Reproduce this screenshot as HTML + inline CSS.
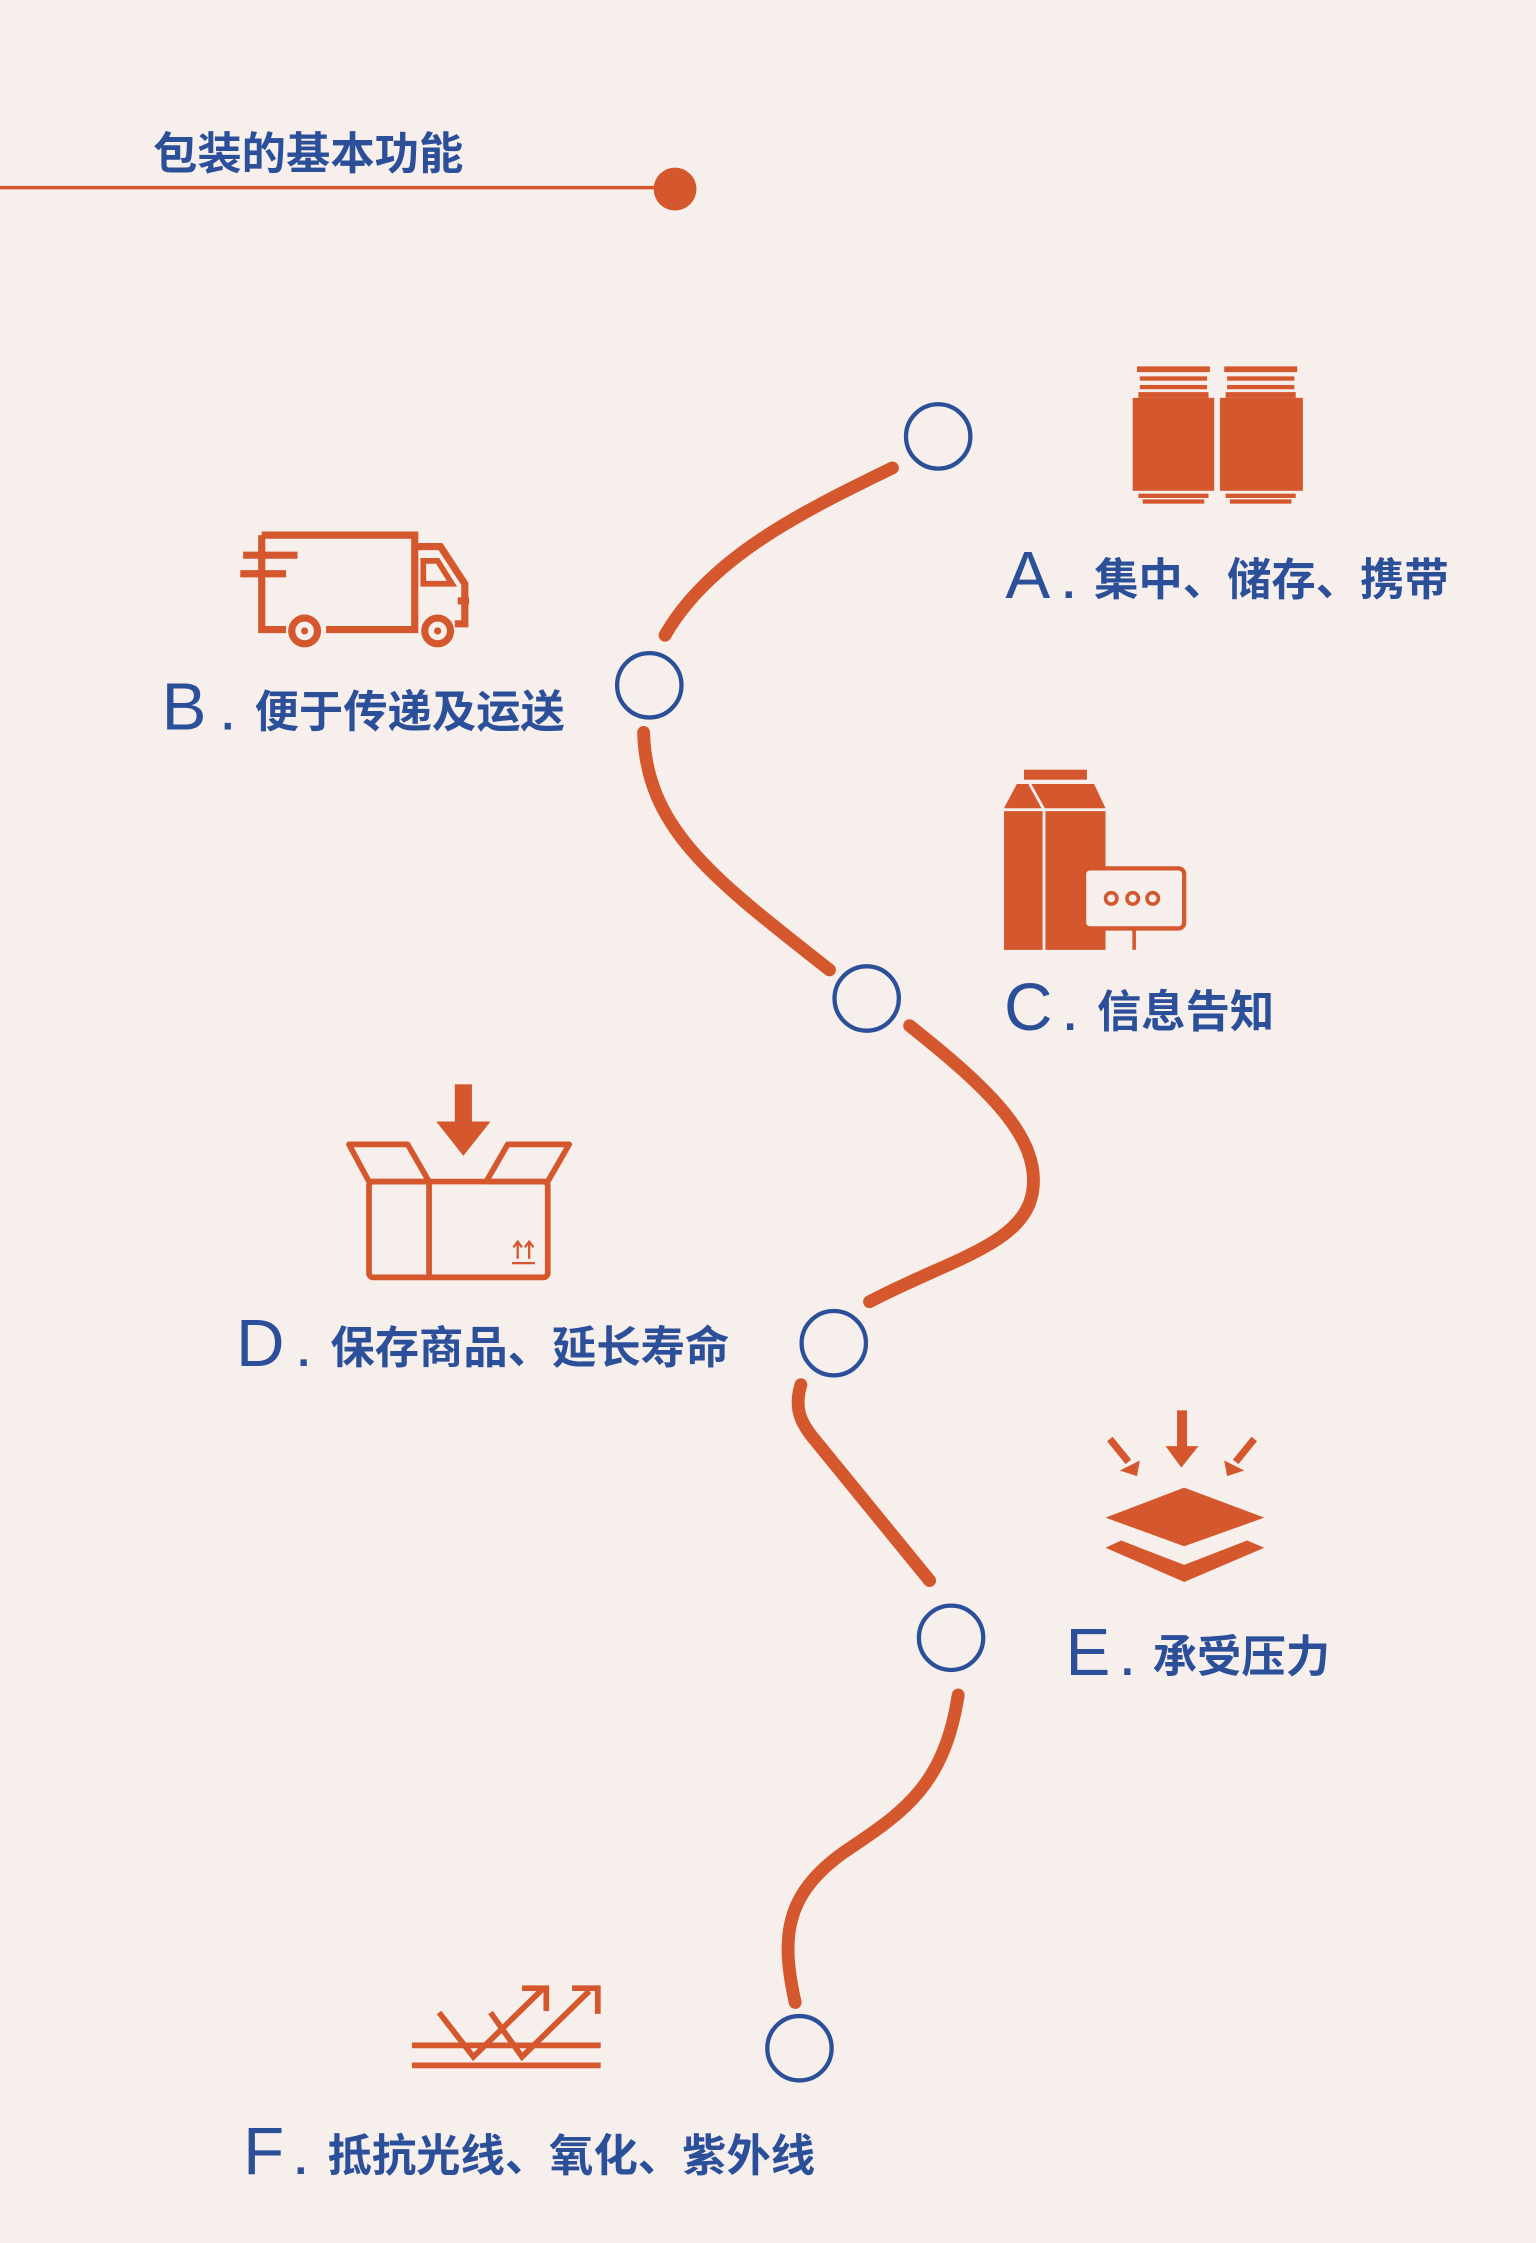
<!DOCTYPE html>
<html><head><meta charset="utf-8"><style>
html,body{margin:0;padding:0;background:#f6efeb;}
svg{display:block}
text{font-family:"Liberation Sans","Noto Sans CJK SC",sans-serif;}
</style></head><body>
<svg width="1536" height="2243" viewBox="0 0 1074 1568" xmlns="http://www.w3.org/2000/svg">
<rect width="1074" height="1568" fill="#f6efeb"/>
<text x="107" y="118" font-size="31" font-weight="bold" fill="#2c4f9a">包装的基本功能</text>
<line x1="0" y1="131" x2="470" y2="131" stroke="#d4572d" stroke-width="2.5"/>
<circle cx="472" cy="132" r="15" fill="#d4572d"/>

<g fill="none" stroke="#d4572d" stroke-width="9" stroke-linecap="round">
<path d="M624,327 C560,358 496,390 465,444"/>
<path d="M450,512 C452,580 500,615 580,678"/>
<path d="M636,717 C690,760 728,795 722,833 C716,870 665,880 608,910"/>
<path d="M560,968 C555,985 560,995 570,1007 L650,1105"/>
<path d="M670,1185 C660,1250 630,1268 590,1295 C548,1325 546,1355 556,1400"/>
</g>
<g fill="none" stroke="#2c4f9a" stroke-width="3">
<circle cx="656" cy="305" r="22.5"/>
<circle cx="454" cy="479" r="22.5"/>
<circle cx="606" cy="698" r="22.5"/>
<circle cx="583" cy="939" r="22.5"/>
<circle cx="665" cy="1145" r="22.5"/>
<circle cx="559" cy="1432" r="22.5"/>
</g>

<g fill="#2c4f9a">
<g font-size="47"><text x="703" y="418">A</text><text x="113" y="510">B</text><text x="702" y="720">C</text><text x="165" y="955">D</text><text x="745" y="1171">E</text><text x="170" y="1520">F</text></g>
<g font-size="31" font-weight="bold">
<text x="743" y="418">.</text><text x="765" y="416">集中、储存、携带</text>
<text x="155" y="510">.</text><text x="178" y="508">便于传递及运送</text>
<text x="744" y="720">.</text><text x="767" y="718">信息告知</text>
<text x="208" y="955">.</text><text x="231" y="953">保存商品、延长寿命</text>
<text x="784" y="1171">.</text><text x="806" y="1169">承受压力</text>
<text x="206" y="1520">.</text><text x="229" y="1518">抵抗光线、氧化、紫外线</text>
</g>
</g>

<g fill="#d4572d">
<rect x="792" y="278" width="57" height="65"/>
<rect x="853" y="278" width="58" height="65"/>
<rect x="795" y="256" width="51" height="4"/><rect x="797" y="263" width="47" height="3"/><rect x="797" y="269" width="47" height="3"/><rect x="796" y="274" width="49" height="4"/>
<rect x="856" y="256" width="51" height="4"/><rect x="858" y="263" width="47" height="3"/><rect x="858" y="269" width="47" height="3"/><rect x="857" y="274" width="49" height="4"/>
<rect x="796" y="345" width="49" height="3"/><rect x="799" y="349" width="43" height="3"/>
<rect x="857" y="345" width="49" height="3"/><rect x="860" y="349" width="43" height="3"/>
</g>

<g fill="none" stroke="#d4572d" stroke-width="5">
<path d="M183,374 H290 V440 H228"/>
<path d="M183,374 V440 H200"/>
<path d="M290,382 H308 L325,408 V436 H318"/>
<path d="M296,392 H306 L316,408 H296 Z" stroke-width="4"/>
<line x1="170" y1="388" x2="208" y2="388"/>
<line x1="168" y1="401" x2="200" y2="401"/>
<circle cx="213" cy="441" r="9"/>
<circle cx="306" cy="441" r="9"/>
<line x1="320" y1="420" x2="328" y2="420"/>
</g>
<circle cx="213" cy="441" r="2.5" fill="#d4572d"/><circle cx="306" cy="441" r="2.5" fill="#d4572d"/>

<g fill="#d4572d">
<rect x="716" y="538" width="44" height="7"/>
<polygon points="711,548 765,548 773,565 702,565"/>
<rect x="702" y="567" width="71" height="97"/>
</g>
<line x1="730" y1="567" x2="730" y2="664" stroke="#f6efeb" stroke-width="2"/>
<line x1="720" y1="548" x2="730" y2="566" stroke="#f6efeb" stroke-width="2"/>
<rect x="758" y="607" width="70" height="42" rx="4" fill="#f6efeb" stroke="#d4572d" stroke-width="3"/>
<g fill="none" stroke="#d4572d" stroke-width="2.5"><circle cx="777" cy="628" r="4"/><circle cx="792" cy="628" r="4"/><circle cx="806" cy="628" r="4"/></g>
<line x1="793" y1="649" x2="793" y2="664" stroke="#d4572d" stroke-width="2.5"/>

<g fill="none" stroke="#d4572d" stroke-width="4" stroke-linejoin="round">
<rect x="258" y="826" width="125" height="67" rx="3"/>
<line x1="300" y1="826" x2="300" y2="893"/>
<polygon points="244,800 285,800 300,826 258,826"/>
<polygon points="355,800 398,800 383,826 340,826"/>
</g>
<rect x="318" y="758" width="12" height="27" fill="#d4572d"/>
<polygon points="305,784 343,784 324,808" fill="#d4572d"/>
<g stroke="#d4572d" stroke-width="1.6" fill="none"><line x1="358" y1="883" x2="374" y2="883"/><line x1="362" y1="880" x2="362" y2="869"/><line x1="370" y1="880" x2="370" y2="869"/><path d="M359,872 L362,868 L365,872 M367,872 L370,868 L373,872"/></g>

<g fill="#d4572d">
<rect x="823" y="986" width="7" height="26"/><polygon points="815,1011 838,1011 826,1026"/>
</g>
<g stroke="#d4572d" stroke-width="5"><line x1="776" y1="1006" x2="789" y2="1022"/><line x1="877" y1="1006" x2="864" y2="1022"/></g>
<polygon points="783,1028 797,1021 795,1032" fill="#d4572d"/>
<polygon points="870,1028 856,1021 858,1032" fill="#d4572d"/>
<g fill="#d4572d">
<polygon points="773,1061 828,1040 884,1061 828,1081"/>
<polygon points="773,1082 784,1077 828,1094 872,1077 884,1082 828,1106"/>
</g>

<g stroke="#d4572d" stroke-width="4" fill="none">
<line x1="288" y1="1430" x2="420" y2="1430"/>
<line x1="288" y1="1444" x2="420" y2="1444"/>
<path d="M307,1407 L331,1438 L380,1390"/>
<path d="M343,1407 L365,1438 L412,1392"/>
<path d="M365,1390 H382 V1406"/>
<path d="M400,1390 H418 V1408"/>
</g>
</svg>
</body></html>
